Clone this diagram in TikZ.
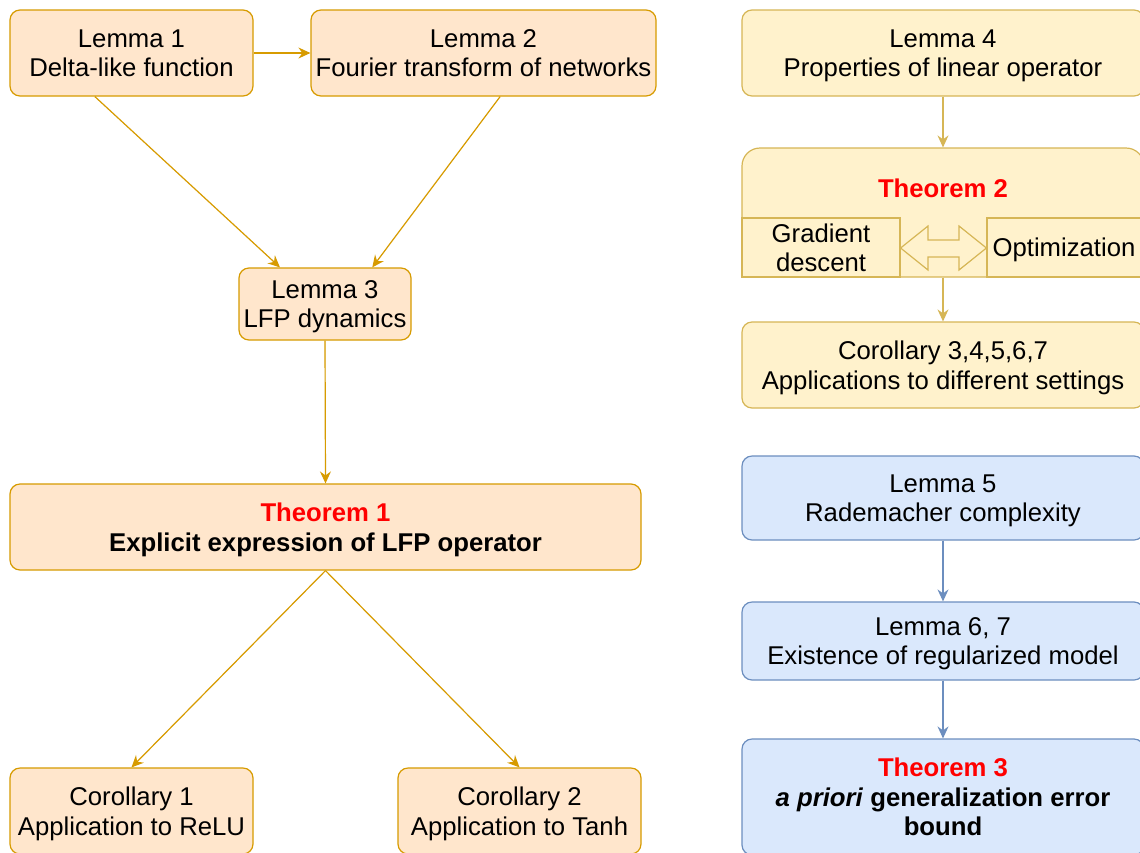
\documentclass[tikz,border=0pt]{standalone}
\usepackage{fontspec}
\setmainfont{Liberation Sans}
\usetikzlibrary{arrows.meta,calc}
\definecolor{orF}{HTML}{FFE6CC}\definecolor{orD}{HTML}{D79B00}
\definecolor{yeF}{HTML}{FFF2CC}\definecolor{yeD}{HTML}{D6B656}
\definecolor{blF}{HTML}{DAE8FC}\definecolor{blD}{HTML}{6C8EBF}
\definecolor{thred}{HTML}{FF0000}
\tikzset{
  box/.style={rounded corners=10, line width=1.2, align=center, inner sep=0,
    text depth=-7pt, font=\fontsize{25.7}{29.5}\selectfont},
  obox/.style={box, fill=orF, draw=orD},
  ybox/.style={box, fill=yeF, draw=yeD},
  bbox/.style={box, fill=blF, draw=blD},
  arr/.style={line width=1.2, -{Stealth[length=12,width=11,inset=4]}},
  oarr/.style={arr, draw=orD, fill=orD},
  yarr/.style={arr, draw=yeD, fill=yeD},
  barr/.style={arr, draw=blD, fill=blD},
  th/.style={text=thred, font=\bfseries\fontsize{25.7}{29.5}\selectfont}
}
\begin{document}
\begin{tikzpicture}[x=1pt,y=-1pt]
\clip (0,0) rectangle (1140,852);
\fill[white] (0,0) rectangle (1140,852);
% left column
\node[obox, minimum width=243, minimum height=86] (L1) at (131.5,53) {Lemma 1\\Delta-like function};
\node[obox, minimum width=345, minimum height=86] (L2) at (483.5,53) {Lemma 2\\Fourier transform of networks};
\node[obox, minimum width=172, minimum height=72] (L3) at (325,304) {Lemma 3\\LFP dynamics};
\node[obox, minimum width=631, minimum height=86] (T1) at (325.5,527) {\textcolor{thred}{\textbf{Theorem 1}}\\\textbf{Explicit expression of LFP operator}};
\node[obox, minimum width=243, minimum height=86] (C1) at (131.5,811) {Corollary 1\\Application to ReLU};
\node[obox, minimum width=243, minimum height=86] (C2) at (519.5,811) {Corollary 2\\Application to Tanh};
\draw[oarr] (L1.east) -- (L2.west);
\draw[oarr] ($(L1.south west)!0.35!(L1.south east)$) -- ($(L3.north west)!0.24!(L3.north east)$);
\draw[oarr] ($(L2.south west)!0.548!(L2.south east)$) -- ($(L3.north west)!0.773!(L3.north east)$);
\draw[oarr] (L3.south) -- (T1.north);
\draw[oarr] (T1.south) -- (C1.north);
\draw[oarr] (T1.south) -- (C2.north);
% right column, yellow
\node[ybox, minimum width=402, minimum height=86] (L4) at (943,53) {Lemma 4\\Properties of linear operator};
\node[ybox, rounded corners=18, minimum width=402, minimum height=129] (T2) at (943,212.5) {};
\node[th, inner sep=0] (T2t) at (943,188) {Theorem 2};
\node[ybox, rounded corners=0, minimum width=158, minimum height=59] (GD) at (821,247.5) {Gradient\\descent};
\node[ybox, rounded corners=0, minimum width=154, minimum height=59] (OP) at (1064,247.5) {Optimization};
\path[draw=yeD, fill=yeF, line width=1.2, line join=miter]
  (GD.east |- 0,248) coordinate (da) -- (928,226) -- (928,240) -- (959,240) -- (959,226)
  -- (OP.west |- 0,248) coordinate (db) -- (959,270) -- (959,257) -- (928,257) -- (928,270) -- cycle;
\node[ybox, minimum width=402, minimum height=86] (C3) at (943,365) {Corollary 3,4,5,6,7\\Applications to different settings};
\draw[yarr] (L4.south) -- (T2.north);
\draw[yarr] (T2.south) -- (C3.north);
% right column, blue
\node[bbox, minimum width=402, minimum height=84] (L5) at (943,498) {Lemma 5\\Rademacher complexity};
\node[bbox, minimum width=402, minimum height=78] (L6) at (943,641) {Lemma 6, 7\\Existence of regularized model};
\node[bbox, minimum width=402, minimum height=116] (T3) at (943,797) {\textcolor{thred}{\textbf{Theorem 3}}\\\textbf{\textit{a priori} generalization error}\\\textbf{bound}};
\draw[barr] (L5.south) -- (L6.north);
\draw[barr] (L6.south) -- (T3.north);
\end{tikzpicture}
\end{document}
